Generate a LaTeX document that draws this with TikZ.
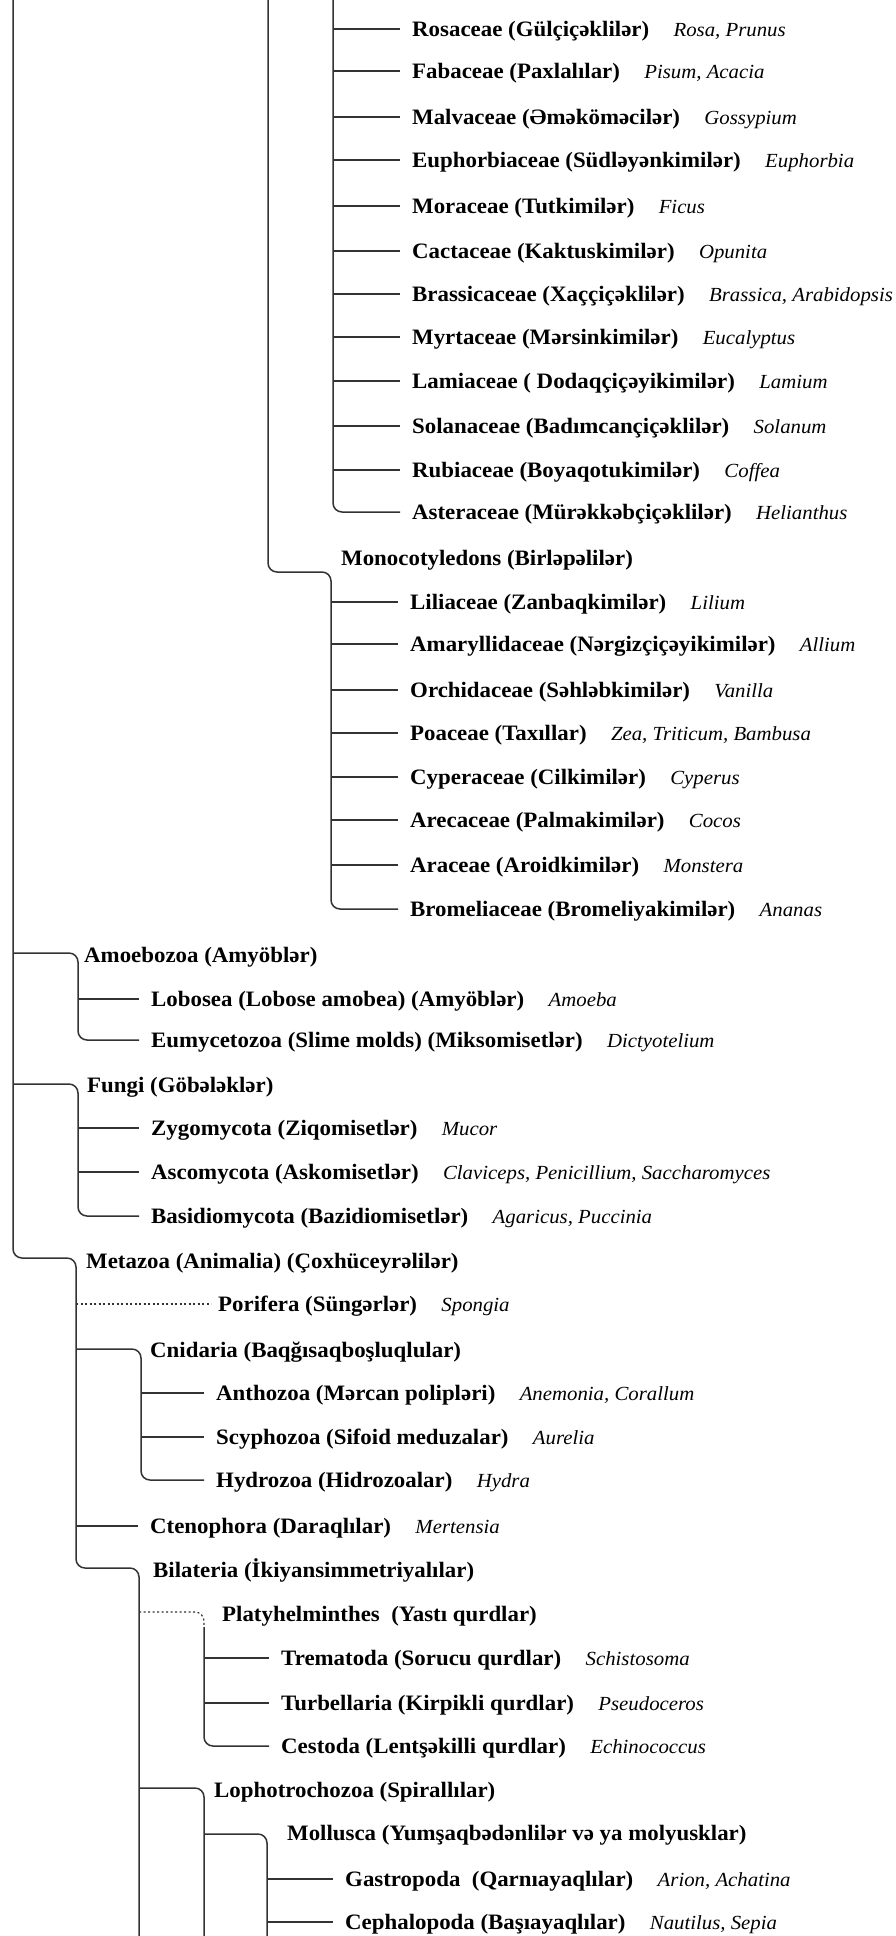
\documentclass[tikz,border=0pt]{standalone}
\usepackage{fontspec}
\setmainfont{Liberation Serif}[FakeStretch=1.04]
\usetikzlibrary{positioning}
\tikzset{
  br/.style={line width=1.5pt,draw=black!80,rounded corners=9pt},
  tip/.style={shorten >=12pt},
  dots/.style={line width=1.2pt,draw=black!80,dash pattern=on 2pt off 2.5pt},
  fam/.style={anchor=west,inner sep=0pt,text height=14.5pt,text depth=0pt,font=\fontsize{22}{26}\selectfont\bfseries},
  gen/.style={anchor=west,inner sep=0pt,text height=14.5pt,text depth=0pt,font=\fontsize{20}{24}\selectfont\itshape}
}
\begin{document}
\begin{tikzpicture}[x=1pt,y=-1pt,node distance=24pt]
	\useasboundingbox (0,0) rectangle (896,1936);
	% branch points
	\coordinate (tr) at (13,0);
	\coordinate (ang) at (268,0);
	\coordinate (dic) at (333,0);
	\coordinate (bot) at (0,1936);
	\coordinate (monc) at (331,572);
	\coordinate (amoc) at (78,953);
	\coordinate (func) at (78,1084);
	\coordinate (metc) at (76,1258);
	\coordinate (cnic) at (141,1349);
	\coordinate (bilc) at (139,1568);
	\coordinate (plac) at (204,1612);
	\coordinate (plad) at (204,1627);
	\coordinate (lopc) at (204,1788);
	\coordinate (molc) at (267,1834);
	% leaves
	\foreach \nm/\x/\y/\lab/\gn in {
		ros/412/29/Rosaceae (Gülçiçəklilər)/{Rosa, Prunus},
		fab/412/71/Fabaceae (Paxlalılar)/{Pisum, Acacia},
		mal/412/117/Malvaceae (Əməköməcilər)/Gossypium,
		eup/412/160/Euphorbiaceae (Südləyənkimilər)/Euphorbia,
		mor/412/206/Moraceae (Tutkimilər)/Ficus,
		cac/412/251/Cactaceae (Kaktuskimilər)/Opunita,
		bra/412/294/Brassicaceae (Xaççiçəklilər)/{Brassica, Arabidopsis},
		myr/412/337/Myrtaceae (Mərsinkimilər)/Eucalyptus,
		lam/412/381/Lamiaceae ( Dodaqçiçəyikimilər)/Lamium,
		sol/412/426/Solanaceae (Badımcançiçəklilər)/Solanum,
		rub/412/470/Rubiaceae (Boyaqotukimilər)/Coffea,
		ast/412/512/Asteraceae (Mürəkkəbçiçəklilər)/Helianthus,
		lil/410/602/Liliaceae (Zanbaqkimilər)/Lilium,
		ama/410/644/Amaryllidaceae (Nərgizçiçəyikimilər)/Allium,
		orc/410/690/Orchidaceae (Səhləbkimilər)/Vanilla,
		poa/410/733/Poaceae (Taxıllar)/{Zea, Triticum, Bambusa},
		cyp/410/777/Cyperaceae (Cilkimilər)/Cyperus,
		are/410/820/Arecaceae (Palmakimilər)/Cocos,
		ara/410/865/Araceae (Aroidkimilər)/Monstera,
		bro/410/909/Bromeliaceae (Bromeliyakimilər)/Ananas,
		lob/151/999/Lobosea (Lobose amobea) (Amyöblər)/Amoeba,
		eum/151/1040/Eumycetozoa (Slime molds) (Miksomisetlər)/Dictyotelium,
		zyg/151/1128/Zygomycota (Ziqomisetlər)/Mucor,
		asc/151/1172/Ascomycota (Askomisetlər)/{Claviceps, Penicillium, Saccharomyces},
		bas/151/1216/Basidiomycota (Bazidiomisetlər)/{Agaricus, Puccinia},
		por/218/1304/Porifera (Süngərlər)/Spongia,
		ant/216/1393/Anthozoa (Mərcan polipləri)/{Anemonia, Corallum},
		scy/216/1437/Scyphozoa (Sifoid meduzalar)/Aurelia,
		hyd/216/1480/Hydrozoa (Hidrozoalar)/Hydra,
		cte/150/1526/Ctenophora (Daraqlılar)/Mertensia,
		tre/281/1658/Trematoda (Sorucu qurdlar)/Schistosoma,
		tur/281/1703/Turbellaria (Kirpikli qurdlar)/Pseudoceros,
		ces/281/1746/Cestoda (Lentşəkilli qurdlar)/Echinococcus,
		gas/345/1879/Gastropoda~ (Qarnıayaqlılar)/{Arion, Achatina},
		cep/345/1922/Cephalopoda (Başıayaqlılar)/{Nautilus, Sepia}
	}{
		\node[fam] (\nm) at (\x,\y) {\lab};
		\node[gen,right=of \nm] (s\nm) {\gn};
	}
	% groups
	\node[fam] (mon) at (341,558) {Monocotyledons (Birləpəlilər)};
	\node[fam] (amo) at (84,955) {Amoebozoa (Amyöblər)};
	\node[fam] (fun) at (87,1085) {Fungi (Göbələklər)};
	\node[fam] (met) at (86,1261) {Metazoa (Animalia) (Çoxhüceyrəlilər)};
	\node[fam] (cni) at (150,1350) {Cnidaria (Baqğısaqboşluqlular)};
	\node[fam] (bil) at (153,1570) {Bilateria (İkiyansimmetriyalılar)};
	\node[fam] (pla) at (222,1614) {Platyhelminthes~ (Yastı qurdlar)};
	\node[fam] (lop) at (214,1790) {Lophotrochozoa (Spirallılar)};
	\node[fam] (mol) at (287,1833) {Mollusca (Yumşaqbədənlilər və ya molyusklar)};
	% tree lines
	\draw[br] (tr) |- (metc) |- (bilc) -- (bilc |- bot);
	\draw[br,tip] (dic) |- (ast.west);
	\draw[br,tip] (ang) |- (monc) |- (bro.west);
	\draw[br,tip] (tr |- amoc) -- (amoc) |- (eum.west);
	\draw[br,tip] (tr |- func) -- (func) |- (bas.west);
	\draw[dots,shorten >=7pt] (metc |- por.west) -- (por.west);
	\draw[br,tip] (metc |- cnic) -- (cnic) |- (hyd.west);
	\draw[br,tip] (metc |- cte.west) -- (cte.west);
	\draw[dots,rounded corners=9pt] (bilc |- plac) -- (plac) -- (plad);
	\draw[br,tip] (plad) |- (ces.west);
	\draw[br] (bilc |- lopc) -- (lopc) -- (lopc |- bot);
	\draw[br] (lopc |- molc) -- (molc) -- (molc |- bot);
	\foreach \nm in {ros,fab,mal,eup,mor,cac,bra,myr,lam,sol,rub}
		\draw[br,tip] (dic |- \nm.west) -- (\nm.west);
	\foreach \nm in {lil,ama,orc,poa,cyp,are,ara}
		\draw[br,tip] (monc |- \nm.west) -- (\nm.west);
	\foreach \nm in {lob}
		\draw[br,tip] (amoc |- \nm.west) -- (\nm.west);
	\foreach \nm in {zyg,asc}
		\draw[br,tip] (func |- \nm.west) -- (\nm.west);
	\foreach \nm in {ant,scy}
		\draw[br,tip] (cnic |- \nm.west) -- (\nm.west);
	\foreach \nm in {tre,tur}
		\draw[br,tip] (plad |- \nm.west) -- (\nm.west);
	\foreach \nm in {gas,cep}
		\draw[br,tip] (molc |- \nm.west) -- (\nm.west);
\end{tikzpicture}
\end{document}
